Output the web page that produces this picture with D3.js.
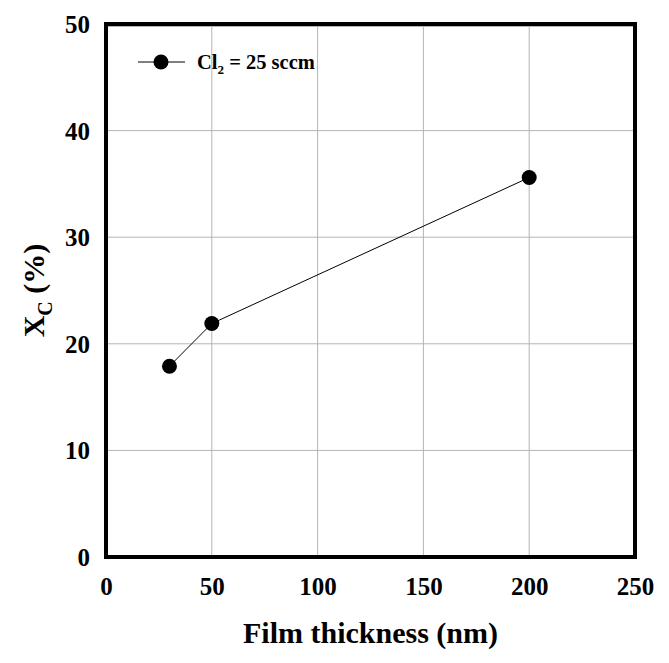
<!DOCTYPE html>
<html><head><meta charset="utf-8">
<script src="https://cdn.jsdelivr.net/npm/d3@7"></script>
<style>body{margin:0;background:#fff}svg{display:block}text{font-family:"Liberation Serif","Times New Roman",serif;font-weight:bold}</style>
</head><body>
<script>
const thickness = [30, 50, 200];
const xc = [17.9, 21.9, 35.6];
const xTicks = [0, 50, 100, 150, 200, 250];
const yTicks = [0, 10, 20, 30, 40, 50];
const seriesLabel = "Cl2 = 25 sccm";

const W = 669, H = 663;
const m = {l:106, r:34, t:24, b:106};
const svg = d3.select("body").append("svg").attr("width", W).attr("height", H);
const x = d3.scaleLinear().domain([0, 250]).range([m.l, W - m.r]);
const y = d3.scaleLinear().domain([0, 50]).range([H - m.b, m.t]);

// gridlines
svg.append("g").selectAll("line.v").data(xTicks.slice(1, -1)).join("line")
  .attr("x1", d => x(d)).attr("x2", d => x(d)).attr("y1", y(50)).attr("y2", y(0))
  .attr("stroke", "#b4b4b4").attr("stroke-width", 1);
svg.append("g").selectAll("line.h").data(yTicks.slice(1)).join("line")
  .attr("x1", x(0)).attr("x2", x(250)).attr("y1", d => y(d) + (d === 50 ? 2.5 : 0)).attr("y2", d => y(d) + (d === 50 ? 2.5 : 0))
  .attr("stroke", "#b4b4b4").attr("stroke-width", 1);

// axes (labels only)
const xAxis = svg.append("g").attr("transform", `translate(0,${y(0)})`)
  .call(d3.axisBottom(x).tickValues(xTicks).tickSize(0).tickPadding(20).tickFormat(d3.format("d")));
xAxis.select(".domain").remove();
xAxis.selectAll("text").attr("font-size", 25).attr("fill", "#000")
  .style("font-family", '"Liberation Serif",serif').style("font-weight", "bold");
const yAxis = svg.append("g").attr("transform", `translate(${x(0)},0)`)
  .call(d3.axisLeft(y).tickValues(yTicks).tickSize(0).tickPadding(16).tickFormat(d3.format("d")));
yAxis.select(".domain").remove();
yAxis.selectAll("text").attr("font-size", 25).attr("fill", "#000").attr("dy", "0.34em")
  .style("font-family", '"Liberation Serif",serif').style("font-weight", "bold");

// frame
svg.append("rect").attr("x", x(0)).attr("y", y(50)).attr("width", x(250) - x(0)).attr("height", y(0) - y(50))
  .attr("fill", "none").attr("stroke", "#000").attr("stroke-width", 4);

// line + points
const pts = thickness.map((t, i) => [t, xc[i]]);
svg.append("path").datum(pts).attr("d", d3.line().x(d => x(d[0])).y(d => y(d[1])))
  .attr("fill", "none").attr("stroke", "#000").attr("stroke-width", 1);
svg.append("g").selectAll("circle").data(pts).join("circle")
  .attr("cx", d => x(d[0])).attr("cy", d => y(d[1])).attr("r", 7.5).attr("fill", "#000");

// legend
const lg = svg.append("g");
lg.append("line").attr("x1", 138).attr("x2", 185).attr("y1", 62).attr("y2", 62).attr("stroke", "#000");
lg.append("circle").attr("cx", 161).attr("cy", 62).attr("r", 7.5).attr("fill", "#000");
const lt = lg.append("text").attr("x", 197).attr("y", 69).attr("font-size", 20.5);
lt.append("tspan").text("Cl");
lt.append("tspan").attr("font-size", 13).attr("dy", 5).text("2");
lt.append("tspan").attr("dy", -5).text(" = 25 sccm");

// titles
svg.append("text").attr("x", (x(0) + x(250)) / 2).attr("y", 643).attr("text-anchor", "middle")
  .attr("font-size", 30).text("Film thickness (nm)");
const yt = svg.append("text").attr("transform", `translate(44,${(y(0) + y(50)) / 2}) rotate(-90)`)
  .attr("text-anchor", "middle").attr("font-size", 30);
yt.append("tspan").text("X");
yt.append("tspan").attr("font-size", 20).attr("dy", 8).text("C");
yt.append("tspan").attr("dy", -8).text(" (%)");
</script>
</body></html>
